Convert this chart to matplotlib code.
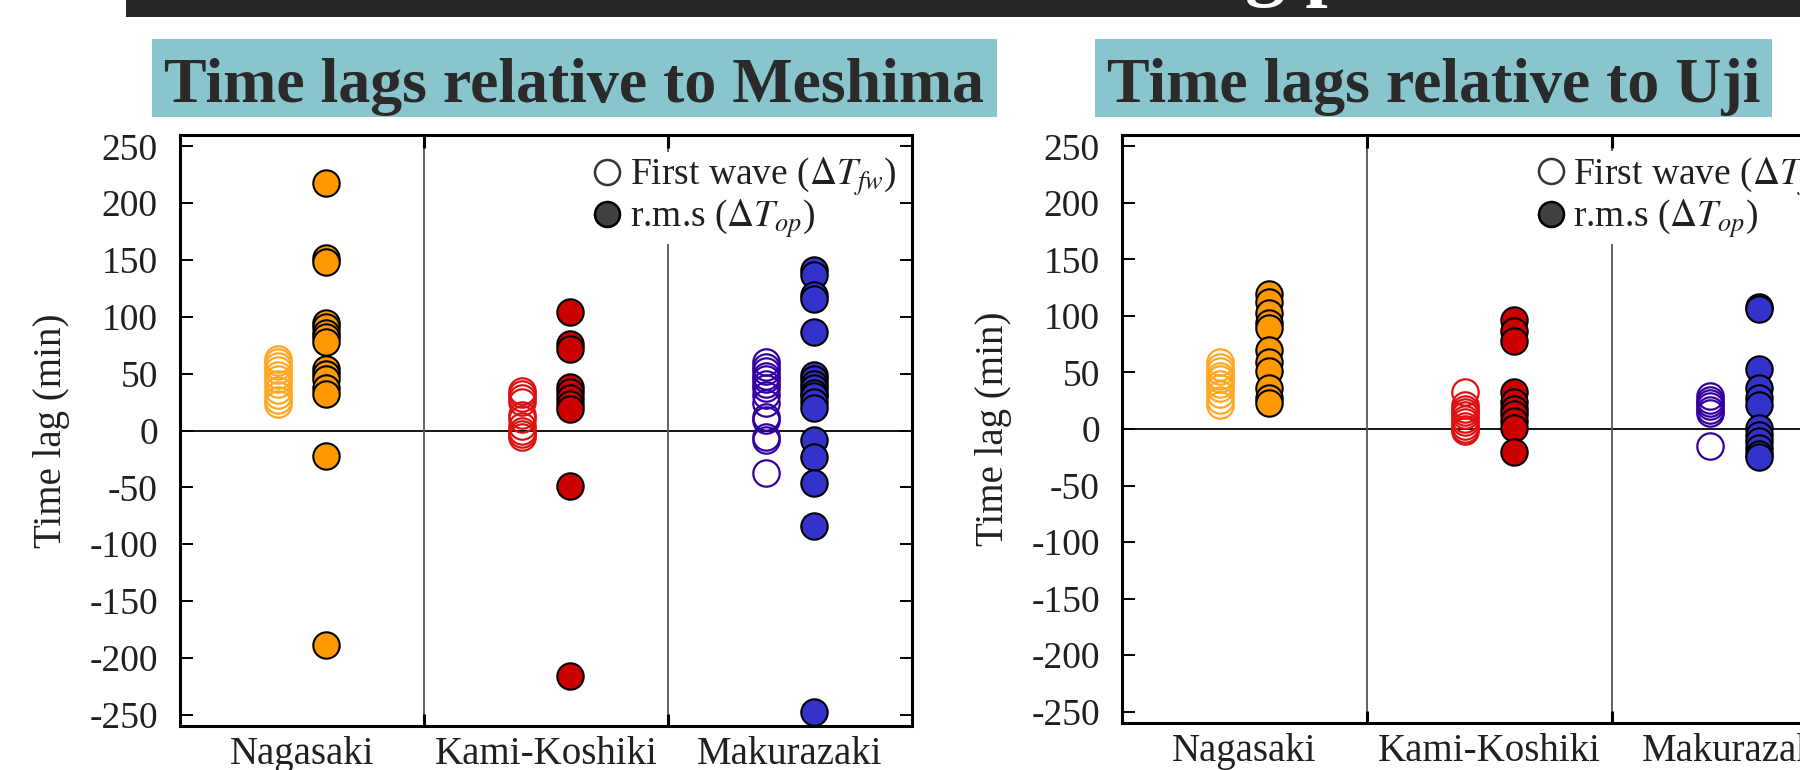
import numpy as np
import matplotlib
matplotlib.use("Agg")
import matplotlib.pyplot as plt
from matplotlib.lines import Line2D
from matplotlib.patches import Rectangle

plt.rcParams['font.family'] = ['Liberation Serif', 'DejaVu Serif']
plt.rcParams['mathtext.fontset'] = 'stix'

stations = ["Nagasaki", "Kami-Koshiki", "Makurazaki"]

# time lags relative to Meshima (min)
mesh_fw = [
    [63, 60, 57, 53, 49, 45, 41, 36, 31, 27, 23],
    [35, 32, 29, 25, 14, 10, 4, 0, -3, -6],
    [60, 56, 52, 48, 45, 41, 37, 31, 24, 12, 9, -6, -8, -37],
]
mesh_op = [
    [218, 152, 148, 95, 91, 86, 82, 78, 54, 50, 45, 37, 32, -22, -189],
    [104, 76, 72, 38, 34, 29, 23, 19, -49, -216],
    [141, 137, 119, 116, 87, 49, 45, 41, 37, 33, 30, 25, 20, -8, -23, -46, -84, -248],
]

# time lags relative to Uji (min)
uji_fw = [
    [59, 55, 51, 47, 44, 40, 36, 31, 26, 21],
    [33, 21, 18, 15, 12, 9, 6, 3, 0, -2],
    [29, 26, 23, 20, 17, 14, -15],
]
uji_op = [
    [119, 112, 103, 94, 89, 70, 59, 51, 36, 27, 23],
    [96, 87, 78, 33, 24, 18, 13, 7, 1, -20],
    [108, 106, 53, 36, 27, 21, 1, -5, -11, -17, -22, -25],
]

fill_cols = ["#FF9900", "#CC0000", "#3333CC"]
open_cols = ["#FFA622", "#DD1111", "#3300A0"]
yticks = np.arange(-250, 251, 50)


def panel(ax, fw, op):
    ax.set_xlim(0, 3)
    ax.set_ylim(-260, 260)
    ax.axhline(0, color="black", lw=1.3, zorder=1)
    for d in [1, 2]:
        ax.axvline(d, color="#555555", lw=1.3, zorder=1)
    for i in range(3):
        ax.plot(np.full(len(fw[i]), i + 0.4), fw[i], "o", ls="none", ms=19,
                mfc="none", mec=open_cols[i], mew=1.6, zorder=3)
        ax.plot(np.full(len(op[i]), i + 0.6), op[i], "o", ls="none", ms=19,
                mfc=fill_cols[i], mec="black", mew=1.5, zorder=4)
    ax.set_yticks(yticks)
    ax.set_yticklabels([str(v) for v in yticks])
    ax.tick_params(axis="y", direction="in", length=9, width=1.4, pad=16,
                   labelsize=27, labelcolor="#231f20", left=True, right=True)
    ax.set_xticks([0.5, 1.5, 2.5])
    ax.set_xticklabels(stations)
    ax.tick_params(axis="x", which="major", length=0, pad=7, labelsize=28,
                   labelcolor="#231f20")
    ax.set_xticks([1, 2], minor=True)
    ax.tick_params(axis="x", which="minor", direction="in", length=9, width=2.2,
                   top=True, bottom=True)
    for s in ax.spines.values():
        s.set_linewidth(2.2)
    ax.set_ylabel("Time lag (min)", fontsize=28, color="#231f20")
    ax.yaxis.set_label_coords(-0.15, 0.5)
    h = [Line2D([], [], marker="o", ls="none", ms=18, mfc="white", mec="#333333", mew=1.8),
         Line2D([], [], marker="o", ls="none", ms=18, mfc="#404040", mec="black", mew=1.8)]
    lg = ax.legend(h, [r"First wave ($\Delta T_{fw}$)", r"r.m.s ($\Delta T_{op}$)"],
                   loc="upper left", bbox_to_anchor=(0.553, 0.972), fontsize=27,
                   handlelength=1.0, handletextpad=0.1, labelspacing=0.0,
                   borderpad=0.1, borderaxespad=0, frameon=True, fancybox=False,
                   framealpha=1, facecolor="white", edgecolor="none")
    for t in lg.get_texts():
        t.set_color("#231f20")
    lg.set_zorder(5)


fig = plt.figure(figsize=(18, 7.7), dpi=100)
W, H = 1800.0, 770.0

# dark header bar (cut off at the top)
bar = Rectangle((126 / W, 1 - 17 / H), 1 - 126 / W, 17 / H, transform=fig.transFigure,
                facecolor="#262626", edgecolor="none")
fig.patches.append(bar)
ht = fig.text(1245 / W, 1 + 9 / H, "g p", color="white", fontsize=58, fontweight="bold",
              ha="left", va="baseline")
ht.set_clip_path(bar)

# teal title boxes
for x0, x1, txt in [(152, 997, "Time lags relative to Meshima"),
                    (1095, 1772, "Time lags relative to Uji")]:
    fig.patches.append(Rectangle((x0 / W, 1 - 117 / H), (x1 - x0) / W, 78 / H,
                                 transform=fig.transFigure, facecolor="#89C5CD",
                                 edgecolor="none"))
    fig.text((x0 + x1) / 2 / W, 1 - 102 / H, txt, ha="center", va="baseline",
             fontsize=46, fontweight="bold", color="#2a2a2a")

ax1 = fig.add_axes([180 / W, 1 - 726 / H, 732 / W, 591 / H])
ax2 = fig.add_axes([1122 / W, 1 - 723 / H, 735 / W, 588 / H])
panel(ax1, mesh_fw, mesh_op)
panel(ax2, uji_fw, uji_op)

fig.savefig("out.png", dpi=100)
